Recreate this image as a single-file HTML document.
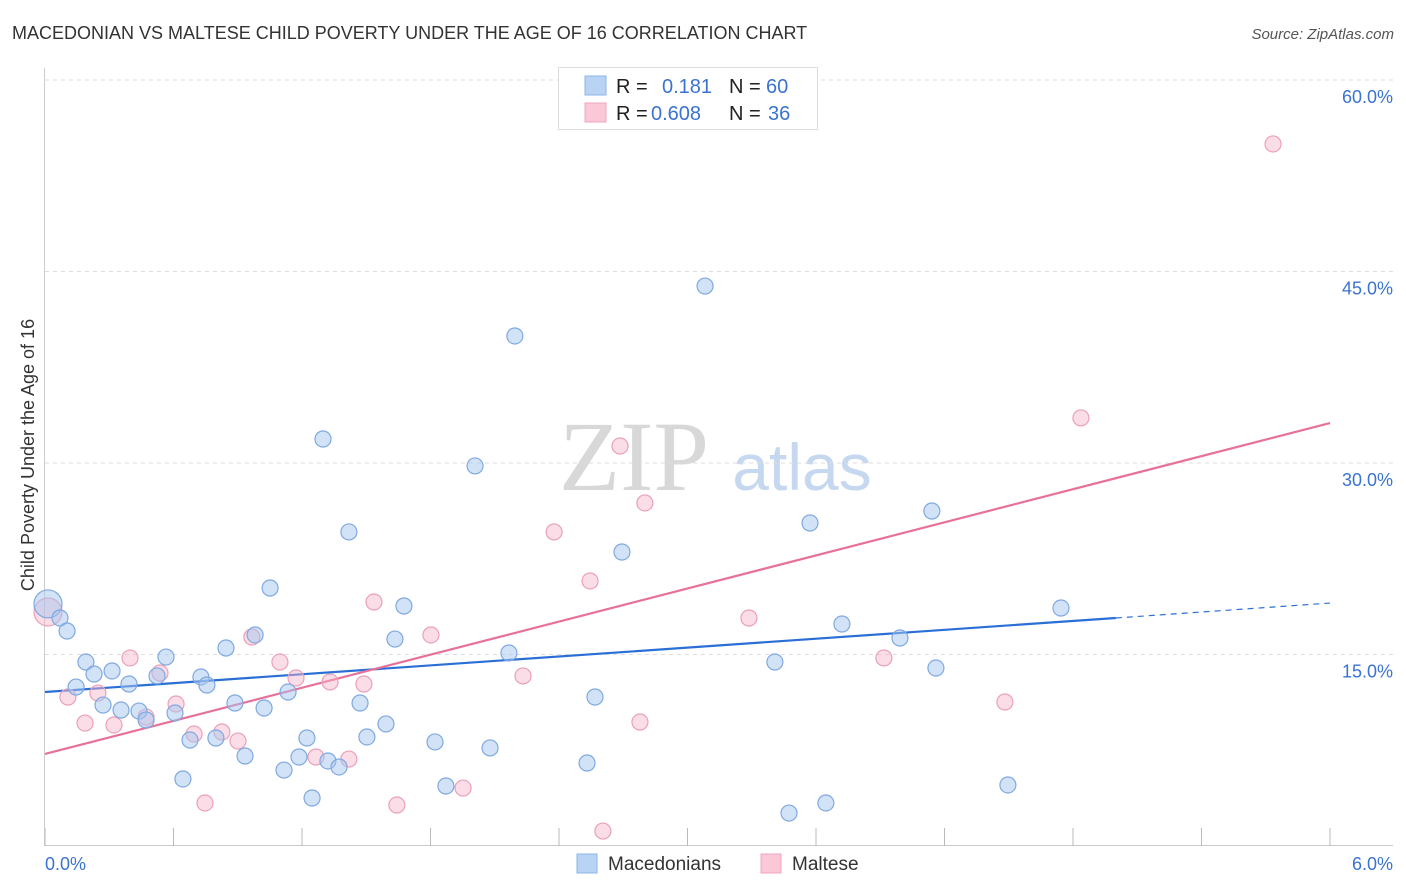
<!DOCTYPE html>
<html><head><meta charset="utf-8"><style>
body{margin:0;background:#fff;font-family:"Liberation Sans",sans-serif}
svg{display:block}
</style></head><body>
<svg id="c" width="1406" height="892">
<text x="12" y="39" font-size="18" fill="#333">MACEDONIAN VS MALTESE CHILD POVERTY UNDER THE AGE OF 16 CORRELATION CHART</text>
<text x="1394" y="39" font-size="15" font-style="italic" fill="#555" text-anchor="end">Source: ZipAtlas.com</text>
<text transform="translate(34,455) rotate(-90)" font-size="18" fill="#333" text-anchor="middle">Child Poverty Under the Age of 16</text>
<g>
<text x="634" y="490" font-size="100" font-family="Liberation Serif,serif" fill="#d8d8d8" text-anchor="middle">ZIP</text>
<text x="802" y="490" font-size="66" fill="#c5d8f0" text-anchor="middle">atlas</text>
</g>
<g id="grid"></g><g id="lines"></g><g id="pts"></g>
<g>
<rect x="558.5" y="67.5" width="259" height="62" fill="#fff" stroke="#ddd"/>
<rect x="585" y="76" width="21" height="19" fill="#b9d3f5" stroke="#8db4e8"/>
<rect x="585" y="103" width="21" height="19" fill="#fac8d7" stroke="#f0a5bd"/>
<text y="93" font-size="20" fill="#222"><tspan x="616">R =</tspan><tspan x="662" fill="#3b73d0">0.181</tspan><tspan x="729">N =</tspan><tspan x="766" fill="#3b73d0">60</tspan></text>
<text y="120" font-size="20" fill="#222"><tspan x="616">R =</tspan><tspan x="651" fill="#3b73d0">0.608</tspan><tspan x="729">N =</tspan><tspan x="768" fill="#3b73d0">36</tspan></text>
</g>
<g>
<rect x="577" y="854" width="20" height="19" fill="#b9d3f5" stroke="#8db4e8"/>
<text x="608" y="870" font-size="19" fill="#333">Macedonians</text>
<rect x="761" y="854" width="20" height="19" fill="#fac8d7" stroke="#f0a5bd"/>
<text x="792" y="870" font-size="19" fill="#333">Maltese</text>
</g>
<text x="45" y="870" font-size="18" fill="#3b73d0">0.0%</text>
<text x="1393" y="870" font-size="18" fill="#3b73d0" text-anchor="end">6.0%</text>
</svg>
<script>
const blueX=[0.014,0.070,0.103,0.145,0.191,0.229,0.271,0.313,0.355,0.392,0.439,0.472,0.523,0.565,0.607,0.644,0.677,0.728,0.756,0.798,0.845,0.887,0.934,0.981,1.023,1.051,1.116,1.135,1.186,1.223,1.247,1.298,1.321,1.373,1.419,1.471,1.503,1.592,1.634,1.676,1.821,1.872,2.008,2.078,2.166,2.194,2.531,2.568,2.694,3.082,3.408,3.474,3.572,3.646,3.721,3.992,4.141,4.160,4.496,4.744];
const blueY=[18.96,17.86,16.84,12.45,14.41,13.47,11.04,13.71,10.65,12.69,10.57,9.87,13.32,14.80,10.42,5.25,8.30,13.24,12.61,8.46,15.51,11.20,7.05,16.53,10.81,20.21,5.95,12.06,6.97,8.46,3.76,31.88,6.66,6.19,24.60,11.20,8.54,9.56,16.21,18.80,8.15,4.70,29.77,7.68,15.12,39.95,6.50,11.67,23.03,43.86,14.41,2.58,25.30,3.37,17.39,16.29,26.24,13.94,4.78,18.64];
const pinkX=[0.014,0.107,0.187,0.247,0.322,0.397,0.472,0.537,0.612,0.696,0.747,0.826,0.901,0.966,1.097,1.172,1.265,1.331,1.419,1.489,1.536,1.643,1.802,1.952,2.232,2.377,2.545,2.605,2.685,2.778,2.801,3.287,3.917,4.482,4.837,5.734];
const pinkY=[18.33,11.67,9.63,11.98,9.48,14.73,10.10,13.55,11.12,8.77,3.37,8.93,8.22,16.37,14.41,13.16,6.97,12.85,6.81,12.69,19.11,3.21,16.53,4.54,13.32,24.60,20.76,1.17,31.33,9.71,26.87,17.86,14.73,11.28,33.53,54.99];
const yTicks=[15,30,45,60];
const yTickLabels=["15.0%","30.0%","45.0%","60.0%"];
const xTicks=[0,0.6,1.2,1.8,2.4,3,3.6,4.2,4.8,5.4,6];
const blueLine=[12.06,17.86,19.03];
const pinkLine=[7.21,33.13];
const blueSolidEnd=5;
const NS="http://www.w3.org/2000/svg";
const sx=v=>45+v/6*1285, sy=v=>846-v/15*191.5;
function mk(p,t,a){const e=document.createElementNS(NS,t);for(const k in a)e.setAttribute(k,a[k]);p.appendChild(e);return e;}
const g=document.getElementById('grid');
yTicks.forEach((t,i)=>{
 const l=mk(g,'line',{x1:45,x2:1393,y1:sy(t),y2:sy(t),stroke:'#ddd','stroke-dasharray':'4,4'});
 
 
 const tx=mk(g,'text',{x:1393,y:sy(t)+23,'font-size':18,fill:'#3b73d0','text-anchor':'end'});
 tx.textContent=yTickLabels[i];
 
 
});
const ax=mk(g,'line',{x1:45,x2:1393,y1:845.5,y2:845.5,stroke:'#ccc'});


const ay=mk(g,'line',{x1:44.5,x2:44.5,y1:68,y2:846,stroke:'#ccc'});


xTicks.forEach(t=>{const l=mk(g,'line',{x1:sx(t),x2:sx(t),y1:828,y2:846,stroke:'#bbb'});
 
 });
const pg=document.getElementById('pts');
function pts(X,Y,fill,stroke,name){X.forEach((x,i)=>{const c=mk(pg,'circle',{cx:sx(x),cy:sy(Y[i]),r:i==0?14:8,fill:fill,stroke:stroke,'stroke-width':1.2});
 
 });}
pts(pinkX,pinkY,'rgba(246,180,202,0.45)','#eba0b8','maltese-point');
pts(blueX,blueY,'rgba(165,198,240,0.5)','#7fa9e0','macedonian-point');
const lg=document.getElementById('lines');
const bl=mk(lg,'line',{x1:sx(0),y1:sy(blueLine[0]),x2:sx(blueSolidEnd),y2:sy(blueLine[1]),stroke:'#2a6fd6','stroke-width':2.2});


const bd=mk(lg,'line',{x1:sx(blueSolidEnd),y1:sy(blueLine[1]),x2:sx(6),y2:sy(blueLine[2]),stroke:'#2a6fd6','stroke-width':1.2,'stroke-dasharray':'6,5'});


const pl=mk(lg,'line',{x1:sx(0),y1:sy(pinkLine[0]),x2:sx(6),y2:sy(pinkLine[1]),stroke:'#e8719a','stroke-width':2.2});


</script>
</body></html>
